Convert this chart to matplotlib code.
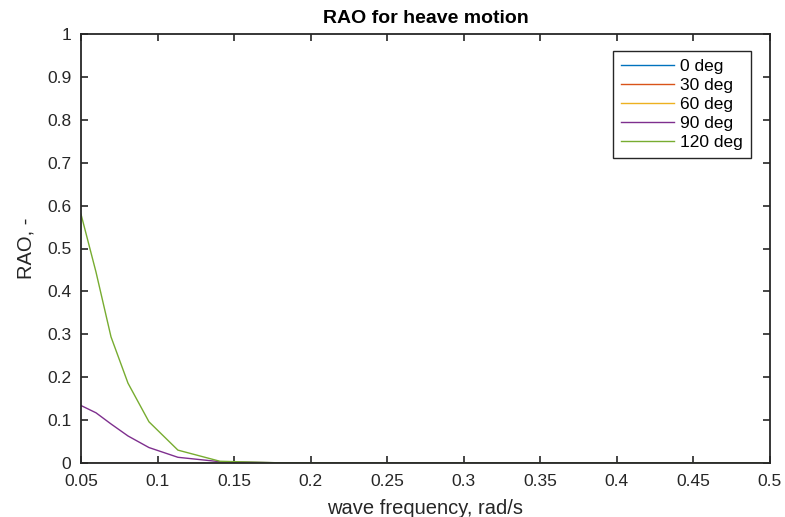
import numpy as np
import matplotlib
matplotlib.use("Agg")
import matplotlib.pyplot as plt

plt.rcParams['font.family'] = ['Liberation Sans', 'DejaVu Sans']

# wave frequencies (rad/s)
freq = [0.05, 0.0598, 0.0696, 0.0807, 0.0944, 0.1133, 0.1408, 0.18, 0.25, 0.35, 0.5]

# RAO per heading
rao_0 = [0, 0, 0, 0, 0, 0, 0, 0, 0, 0, 0]
rao_30 = [0, 0, 0, 0, 0, 0, 0, 0, 0, 0, 0]
rao_60 = [0, 0, 0, 0, 0, 0, 0, 0, 0, 0, 0]
rao_90 = [0.134, 0.117, 0.091, 0.063, 0.036, 0.0133, 0.003, 0.0004, 0, 0, 0]
rao_120 = [0.58, 0.445, 0.294, 0.186, 0.096, 0.030, 0.004, 0.0004, 0, 0, 0]

labels = ['0 deg', '30 deg', '60 deg', '90 deg', '120 deg']
colors = ['#0072BD', '#D95319', '#EDB120', '#7E2F8E', '#77AC30']

fig = plt.figure(figsize=(7.85, 5.17), dpi=100)
ax = fig.add_axes([81/785, 1 - 463/517, (770-81)/785, (463-34)/517])

for r, lab, c in zip([rao_0, rao_30, rao_60, rao_90, rao_120], labels, colors):
    ax.plot(freq, r, color=c, lw=1.0, label=lab)

ax.set_xlim(0.05, 0.5)
ax.set_ylim(0, 1)
ax.set_xticks(np.arange(0.05, 0.501, 0.05))
ax.set_xticklabels(['0.05', '0.1', '0.15', '0.2', '0.25', '0.3', '0.35', '0.4', '0.45', '0.5'])
ax.set_yticks(np.arange(0, 1.01, 0.1))
ax.set_yticklabels(['0', '0.1', '0.2', '0.3', '0.4', '0.5', '0.6', '0.7', '0.8', '0.9', '1'])
ax.tick_params(direction='in', top=True, right=True, length=5, width=1.2,
               labelsize=12.5, colors='#262626')
ax.tick_params(axis='x', pad=8)
ax.tick_params(axis='y', pad=7)
for s in ax.spines.values():
    s.set_linewidth(1.3)
    s.set_color('#262626')

ax.set_xlabel('wave frequency, rad/s', fontsize=14.5, color='#262626', labelpad=7)
ax.set_ylabel('RAO, -', fontsize=14.5, color='#262626', labelpad=8)
ax.set_title('RAO for heave motion', fontsize=14, fontweight='bold', pad=8)

leg = ax.legend(loc='upper right', bbox_to_anchor=(0.9724, 0.9604), borderaxespad=0,
                fontsize=12.5, fancybox=False, framealpha=1, edgecolor='#262626',
                handlelength=3.1, borderpad=0.45, labelspacing=0.22, handletextpad=0.35)
leg.get_frame().set_linewidth(1.0)

fig.savefig('out.png', dpi=100)
